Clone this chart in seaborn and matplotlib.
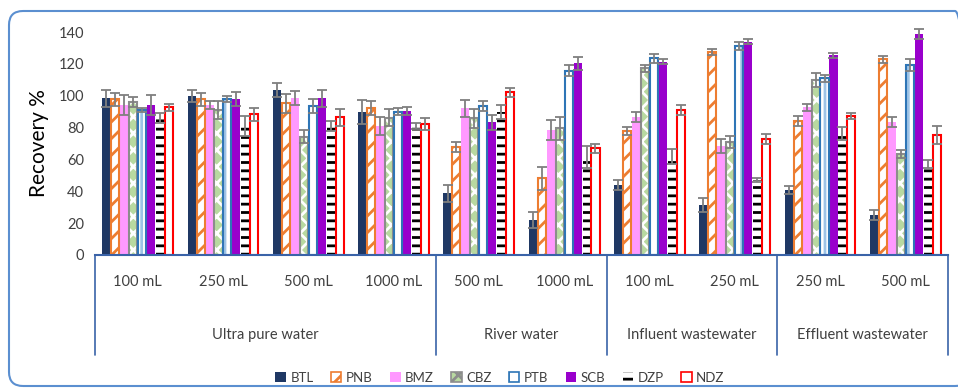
import matplotlib
matplotlib.use("Agg")
import matplotlib.pyplot as plt
import matplotlib.patches as mpatches
import matplotlib.transforms as mtransforms
import numpy as np
import pandas as pd
import seaborn as sns

# sample volume (tick label) and matrix (group label) for each of the 10 bar groups
samples = ["100 mL", "250 mL", "500 mL", "1000 mL", "500 mL", "1000 mL",
           "100 mL", "250 mL", "250 mL", "500 mL"]
matrices = ["Ultra pure water"] * 4 + ["River water"] * 2 + \
           ["Influent wastewater"] * 2 + ["Effluent wastewater"] * 2
analytes = ["BTL", "PNB", "BMZ", "CBZ", "PTB", "SCB", "DZP", "NDZ"]

BTL = [98.4, 99.8, 103.6, 89.8, 38.7, 22.0, 43.9, 31.4, 40.8, 25.1]
PNB = [97.7, 97.7, 95.2, 92.1, 67.6, 48.1, 78.0, 127.6, 84.1, 122.8]
BMZ = [94.2, 94.2, 98.4, 81.0, 92.1, 78.5, 86.8, 68.4, 92.7, 83.7]
CBZ = [96.2, 91.0, 74.3, 86.3, 85.8, 79.5, 117.2, 71.1, 109.9, 63.4]
PTB = [91.0, 98.0, 93.5, 89.9, 93.5, 115.7, 123.5, 131.2, 110.9, 119.3]
SCB = [94.2, 98.0, 98.4, 90.4, 83.3, 120.3, 121.4, 133.9, 125.5, 138.7]
DZP = [86.0, 81.0, 81.0, 81.0, 89.6, 61.7, 61.7, 47.1, 76.4, 57.1]
NDZ = [92.7, 88.3, 86.4, 82.2, 102.1, 67.0, 91.0, 72.8, 87.4, 75.3]

BTL_err = [5.3, 3.6, 4.6, 7.3, 5.2, 4.9, 3.1, 4.5, 2.5, 3.1]
PNB_err = [4.3, 4.0, 5.9, 4.4, 3.1, 7.0, 2.6, 1.8, 3.1, 2.3]
BMZ_err = [6.0, 2.4, 4.3, 5.9, 5.2, 6.2, 3.1, 4.5, 2.1, 3.1]
CBZ_err = [3.0, 5.9, 3.9, 5.5, 6.0, 7.0, 2.3, 3.9, 4.2, 2.3]
PTB_err = [1.5, 1.9, 4.3, 2.3, 3.0, 3.5, 2.8, 2.4, 2.3, 3.5]
SCB_err = [6.0, 4.3, 5.3, 2.8, 4.8, 3.9, 1.4, 1.6, 1.6, 3.4]
DZP_err = [3.0, 6.0, 3.0, 2.0, 4.4, 7.0, 4.7, 1.4, 4.2, 2.6]
NDZ_err = [2.0, 3.9, 5.2, 3.8, 2.9, 3.0, 3.1, 3.1, 2.0, 5.5]

values = dict(BTL=BTL, PNB=PNB, BMZ=BMZ, CBZ=CBZ, PTB=PTB, SCB=SCB, DZP=DZP, NDZ=NDZ)
errors = dict(BTL=BTL_err, PNB=PNB_err, BMZ=BMZ_err, CBZ=CBZ_err,
              PTB=PTB_err, SCB=SCB_err, DZP=DZP_err, NDZ=NDZ_err)

# face, hatch colour, hatch, outline colour
styles = {
    "BTL": ("#1F3864", "#1F3864", None, None),
    "PNB": ("white", "#ED7D31", "//", "#ED7D31"),
    "BMZ": ("#FF99FF", "#FF99FF", None, None),
    "CBZ": ("#B8D9A0", "white", "xx", "#8C8C8C"),
    "PTB": ("white", "#9DC3E6", "|", "#2E75B6"),
    "SCB": ("#9900CC", "#9900CC", None, None),
    "DZP": ("white", "black", "--", None),
    "NDZ": ("white", "#FF0000", None, "#FF0000"),
}

keys = [f"{m}|{s}|{i}" for i, (m, s) in enumerate(zip(matrices, samples))]
df = pd.DataFrame([(k, a, values[a][i]) for a in analytes for i, k in enumerate(keys)],
                  columns=["key", "analyte", "value"])

sns.set_theme(style="white")
plt.rcParams["font.family"] = ["Lato", "DejaVu Sans"]
plt.rcParams["hatch.linewidth"] = 2.0

fig = plt.figure(figsize=(9.58, 3.9), dpi=100)
ax = fig.add_axes([95 / 958, 1 - 255 / 390, 853 / 958, 223 / 390])

palette = {a: styles[a][0] for a in analytes}
sns.barplot(data=df, x="key", y="value", hue="analyte", order=keys, hue_order=analytes,
            palette=palette, saturation=1, width=0.84, gap=0.1, errorbar=None,
            legend=False, ax=ax)

for a, cont in zip(analytes, ax.containers):
    face, hcol, hatch, outline = styles[a]
    for bar in cont:
        bar.set_facecolor(face)
        bar.set_edgecolor(hcol)
        bar.set_linewidth(0)
        if hatch:
            bar.set_hatch(hatch)
        if outline:
            ax.add_patch(mpatches.Rectangle(bar.get_xy(), bar.get_width(), bar.get_height(),
                                            fill=False, edgecolor=outline, lw=1.5, zorder=bar.get_zorder() + 0.1))
    xs = [b.get_x() + b.get_width() / 2 for b in cont]
    hs = [b.get_height() for b in cont]
    ax.errorbar(xs, hs, yerr=errors[a], fmt="none", ecolor="#7F7F7F", elinewidth=1.3,
                capsize=3.5, capthick=1.3, clip_on=False, zorder=5)

ax.set_xlim(-0.5, len(keys) - 0.5)
ax.set_ylim(0, 140)
ax.set_yticks(np.arange(0, 141, 20))
ax.tick_params(axis="y", length=0, pad=8, labelsize=10.5, labelcolor="#404040")
ax.set_xticks([])
ax.set_xlabel("")
ax.set_ylabel("Recovery %", fontsize=15, labelpad=7, color="black")
for s in ["top", "right", "left"]:
    ax.spines[s].set_visible(False)
ax.spines["bottom"].set_color("#3A63A8")
ax.spines["bottom"].set_linewidth(1.5)

trans = mtransforms.blended_transform_factory(ax.transData, ax.transAxes)
for i, s in enumerate(samples):
    ax.annotate(s, xy=(i, 0), xycoords=trans, xytext=(0, -27), textcoords="offset pixels",
                ha="center", va="center", fontsize=10.5, color="#404040")

bounds = [-0.5]
groups = []
for i, m in enumerate(matrices):
    if i == 0 or m != matrices[i - 1]:
        groups.append([m, i, i])
    else:
        groups[-1][2] = i
for m, i0, i1 in groups:
    ax.annotate(m, xy=((i0 + i1) / 2, 0), xycoords=trans, xytext=(0, -80),
                textcoords="offset pixels", ha="center", va="center",
                fontsize=10.5, color="#404040")
    bounds.append(i1 + 0.5)
for b in bounds:
    ax.plot([b, b], [0, -100 / 223], transform=trans, color="#3A63A8", lw=1.2, clip_on=False)

handles = []
for a in analytes:
    face, hcol, hatch, outline = styles[a]
    handles.append(mpatches.Patch(facecolor=face, edgecolor=outline or hcol, hatch=hatch,
                                  lw=1.2 if outline else 0, label=a))
fig.legend(handles=handles, loc="center", bbox_to_anchor=(500 / 958, 12 / 390), ncol=8,
           frameon=False, fontsize=9.5, handlelength=0.8, handleheight=0.8,
           handletextpad=0.35, columnspacing=1.3, labelcolor="#404040")

frame = mpatches.FancyBboxPatch((9, 4), 960, 375, boxstyle="round,pad=0,rounding_size=14",
                                transform=mtransforms.IdentityTransform(), fill=False,
                                edgecolor="#5B8FD0", lw=1.5)
fig.patches.append(frame)

fig.savefig("out.png", dpi=100)
